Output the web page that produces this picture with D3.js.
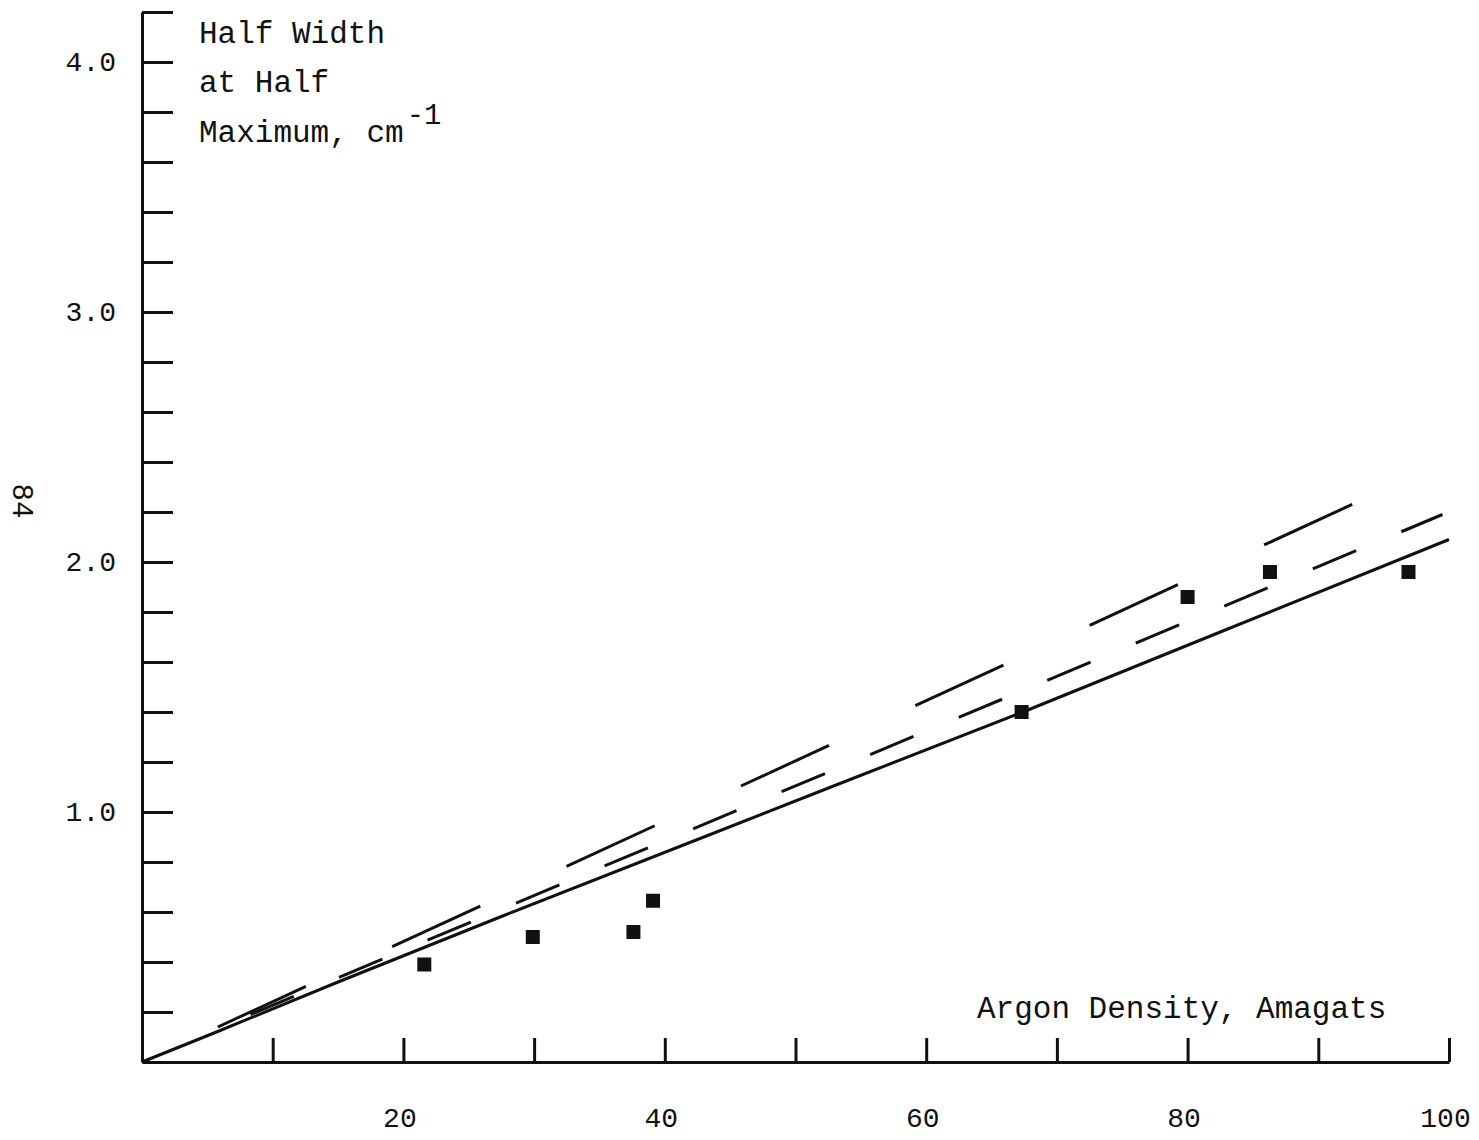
<!DOCTYPE html>
<html>
<head>
<meta charset="utf-8">
<script src="https://cdn.jsdelivr.net/npm/d3@7"></script>
<style>
  html, body { margin: 0; padding: 0; background: #fff; }
  text { font-family: "Liberation Mono", "Courier New", monospace; fill: #111; }
</style>
</head>
<body>
<svg id="chart" width="1479" height="1140"></svg>
<script>
// measured half widths (squares)
var pointX = [21.6, 29.9, 37.6, 39.1, 67.3, 80.0, 86.3, 96.9]
var pointY = [0.39, 0.50, 0.52, 0.645, 1.40, 1.86, 1.96, 1.96]

// solid curve
var solidX = [0, 5.7, 15, 27.4, 42.5, 53.2, 67.4, 82.5, 100]
var solidY = [0, 0.12, 0.32, 0.58, 0.89, 1.11, 1.40, 1.72, 2.09]

// short dashed curve
var medDashX = [8.3, 99.5]
var medDashY = [0.19, 2.19]

// long dashed curve
var longDashX = [5.8, 93.2]
var longDashY = [0.14, 2.245]

// ticks
var xMinorTicks = [10, 20, 30, 40, 50, 60, 70, 80, 90, 100]
var xLabelTicks = [20, 40, 60, 80, 100]
var yMinorTicks = [0.2, 0.4, 0.6, 0.8, 1.0, 1.2, 1.4, 1.6, 1.8, 2.0, 2.2, 2.4, 2.6, 2.8, 3.0, 3.2, 3.4, 3.6, 3.8, 4.0, 4.2]
var yLabelTicks = [1.0, 2.0, 3.0, 4.0]

var svg = d3.select("#chart")

svg.append("rect")
   .attr("width", 1479)
   .attr("height", 1140)
   .attr("fill", "#fff")

var x = d3.scaleLinear().domain([0, 100]).range([142, 1449])
var y = d3.scaleLinear().domain([0, 4.2]).range([1062, 12])

function zip(a, b) { return a.map(function (v, i) { return [v, b[i]] }) }

// x axis: ticks pointing up
svg.append("g")
   .attr("transform", "translate(0,1062)")
   .call(d3.axisBottom(x).tickValues(xMinorTicks).tickSize(-24).tickSizeOuter(0).tickFormat(""))
   .call(function (g) {
      g.selectAll("path, line").attr("stroke", "#111").attr("stroke-width", 3)
   })

svg.append("g")
   .attr("transform", "translate(0,1062)")
   .call(d3.axisBottom(x).tickValues(xLabelTicks).tickSize(0).tickPadding(45).tickFormat(d3.format("d")))
   .call(function (g) {
      g.select(".domain").remove()
      g.selectAll("text").attr("font-size", 28).attr("dx", -4).attr("fill", "#111")
        .style("font-family", "'Liberation Mono', monospace")
   })

// y axis: ticks pointing right
svg.append("g")
   .attr("transform", "translate(142,0)")
   .call(d3.axisRight(y).tickValues(yMinorTicks).tickSize(31).tickSizeOuter(0).tickFormat(""))
   .call(function (g) {
      g.selectAll("path, line").attr("stroke", "#111").attr("stroke-width", 3)
   })

svg.append("g")
   .attr("transform", "translate(142,0)")
   .call(d3.axisLeft(y).tickValues(yLabelTicks).tickSize(0).tickPadding(26).tickFormat(d3.format(".1f")))
   .call(function (g) {
      g.select(".domain").remove()
      g.selectAll("text").attr("font-size", 28).attr("fill", "#111")
        .style("font-family", "'Liberation Mono', monospace")
   })

// curves
var line = d3.line().x(function (d) { return x(d[0]) }).y(function (d) { return y(d[1]) })

svg.append("path")
   .datum(zip(solidX, solidY))
   .attr("d", line)
   .attr("fill", "none")
   .attr("stroke", "#111")
   .attr("stroke-width", 3)

svg.append("path")
   .datum(zip(medDashX, medDashY))
   .attr("d", line)
   .attr("fill", "none")
   .attr("stroke", "#111")
   .attr("stroke-width", 3)
   .attr("stroke-dasharray", "47 49")

svg.append("path")
   .datum(zip(longDashX, longDashY))
   .attr("d", line)
   .attr("fill", "none")
   .attr("stroke", "#111")
   .attr("stroke-width", 3)
   .attr("stroke-dasharray", "97 95")

// squares
svg.append("g")
   .selectAll("rect")
   .data(zip(pointX, pointY))
   .join("rect")
   .attr("x", function (d) { return x(d[0]) - 7 })
   .attr("y", function (d) { return y(d[1]) - 7 })
   .attr("width", 14)
   .attr("height", 14)
   .attr("fill", "#111")

// y title
var yTitle = svg.append("text")
   .attr("x", 199)
   .attr("font-size", 31)
yTitle.append("tspan").attr("x", 199).attr("y", 43).text("Half Width")
yTitle.append("tspan").attr("x", 199).attr("y", 92).text("at Half")
yTitle.append("tspan").attr("x", 199).attr("y", 142).text("Maximum, cm")
yTitle.append("tspan").attr("dx", 3).attr("dy", -18).attr("font-size", 29).text("-1")

// x title
svg.append("text")
   .attr("x", 977)
   .attr("y", 1018)
   .attr("font-size", 31)
   .text("Argon Density, Amagats")

// page number
svg.append("text")
   .attr("transform", "translate(13,501) rotate(90)")
   .attr("text-anchor", "middle")
   .attr("font-size", 29)
   .text("84")
</script>
</body>
</html>
